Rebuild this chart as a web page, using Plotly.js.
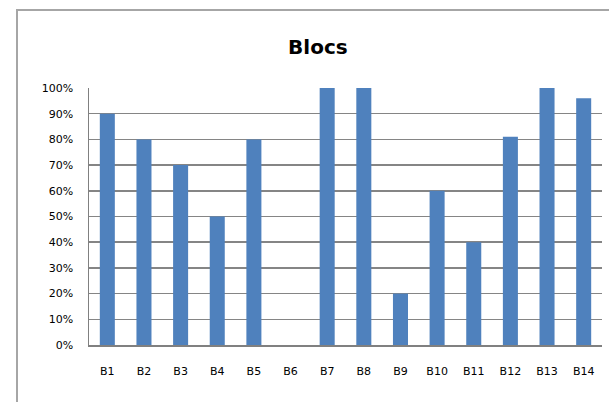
<!DOCTYPE html>
<html>
<head>
<meta charset="utf-8">
<script src="https://cdn.plot.ly/plotly-3.0.1.min.js"></script>
<style>
  html, body { margin: 0; padding: 0; background: #fff; }
  #chart { width: 609px; height: 402px; position: absolute; left: 0; top: 0; }
  #frame { position: absolute; left: 16px; top: 9px; width: 700px; height: 500px;
           border-left: 2px solid #a6a6a6; border-top: 2px solid #a6a6a6; pointer-events: none; }
</style>
</head>
<body>
<div id="chart"></div>
<div id="frame"></div>
<script>
const categories = ["B1","B2","B3","B4","B5","B6","B7","B8","B9","B10","B11","B12","B13","B14"];
const values = [0.90, 0.80, 0.70, 0.50, 0.80, 0, 1.00, 1.00, 0.20, 0.60, 0.40, 0.81, 1.00, 0.96];
const yTickVals = [0,0.1,0.2,0.3,0.4,0.5,0.6,0.7,0.8,0.9,1.0];
const yTickText = ["0%","10%","20%","30%","40%","50%","60%","70%","80%","90%","100%"];

const trace = {
  type: "bar",
  x: categories,
  y: values,
  marker: { color: "#4f81bd" },
  hoverinfo: "none"
};

const layout = {
  width: 609, height: 402,
  margin: { l: 89, r: 7, t: 88, b: 57 },
  paper_bgcolor: "#ffffff",
  plot_bgcolor: "#ffffff",
  bargap: 0.59,
  showlegend: false,
  title: {
    text: "<b>Blocs</b>",
    font: { family: "DejaVu Sans, Verdana, sans-serif", size: 20, color: "#000" },
    x: 0.522, xref: "container", xanchor: "center",
    y: 1 - 47/402, yref: "container", yanchor: "middle"
  },
  xaxis: {
    type: "category",
    showline: true, linecolor: "#808080", linewidth: 1.5,
    showgrid: false, ticks: "",
    tickfont: { family: "DejaVu Sans, Tahoma, sans-serif", size: 11, color: "#000" },
    ticklabelstandoff: 15,
    fixedrange: true
  },
  yaxis: {
    range: [0, 1],
    tickvals: yTickVals, ticktext: yTickText,
    showline: true, linecolor: "#808080", linewidth: 1.5,
    showgrid: true, gridcolor: "#858585", gridwidth: 1.5,
    zeroline: false, ticks: "",
    tickfont: { family: "DejaVu Sans, Tahoma, sans-serif", size: 11, color: "#000" },
    ticklabelstandoff: 12,
    fixedrange: true
  }
};

Plotly.newPlot("chart", [trace], layout, { displayModeBar: false, staticPlot: true });
</script>
</body>
</html>
